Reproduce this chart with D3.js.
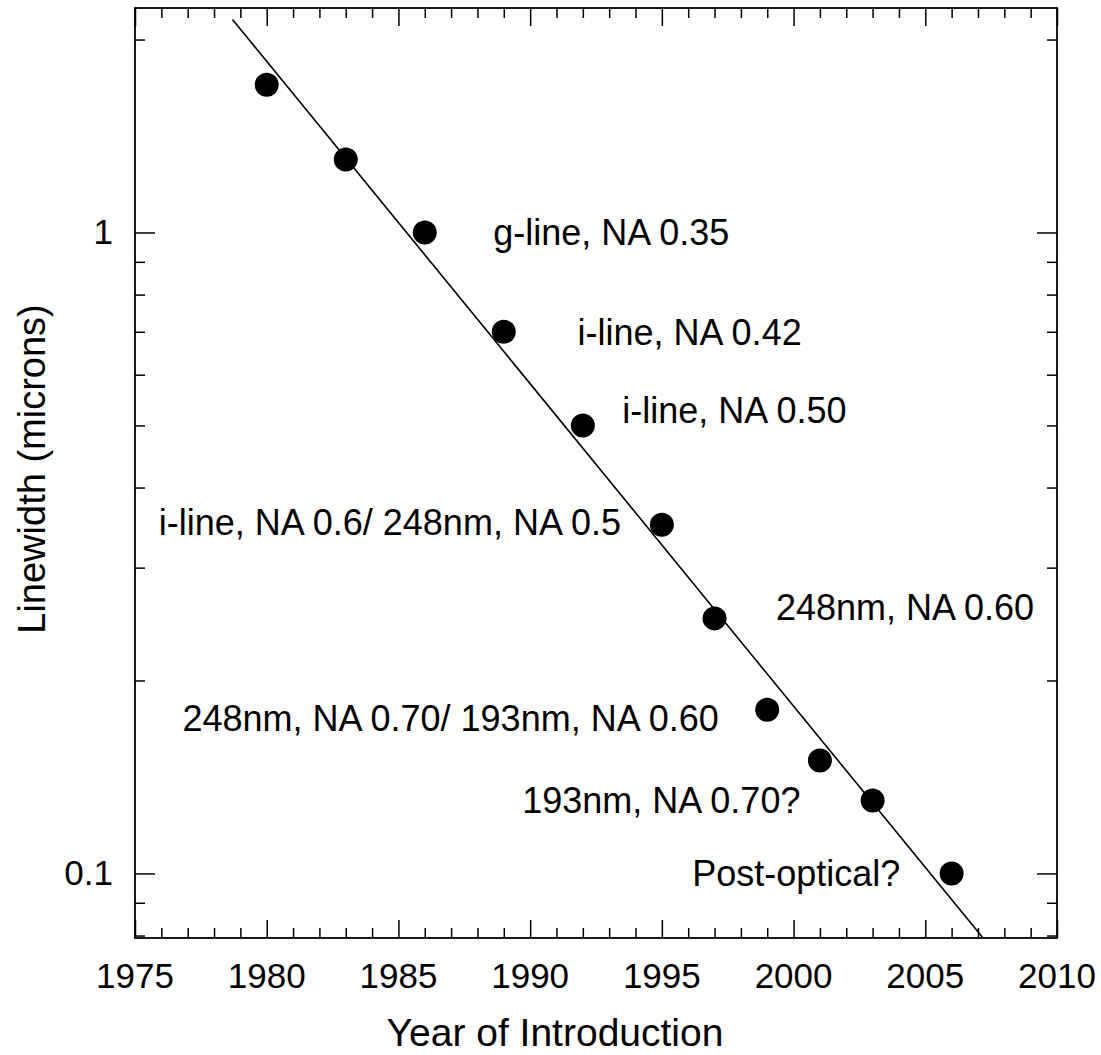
<!DOCTYPE html>
<html>
<head>
<meta charset="utf-8"/>
<title>Linewidth vs year</title>
<script src="https://cdn.jsdelivr.net/npm/d3@7"></script>
<style>
  body { margin: 0; background: #fff; }
  text { font-family: "Liberation Sans", Arial, Helvetica, sans-serif; fill: #000; }
</style>
</head>
<body>
<div id="chart"></div>
<script>
// data
var years  = [1980, 1983, 1986, 1989, 1992, 1995, 1997, 1999, 2001, 2003, 2006];
var widths = [1.7, 1.3, 1.0, 0.7, 0.5, 0.35, 0.25, 0.18, 0.15, 0.13, 0.10];

// trend line end points (year, microns)
var fitYears  = [1978.7, 2007.17];
var fitWidths = [2.15, 0.0795];

var labelText = ["g-line, NA 0.35", "i-line, NA 0.42", "i-line, NA 0.50",
                 "i-line, NA 0.6/ 248nm, NA 0.5", "248nm, NA 0.60",
                 "248nm, NA 0.70/ 193nm, NA 0.60", "193nm, NA 0.70?", "Post-optical?"];
var labelYear  = [1988.6, 1991.8, 1993.5, 1975.9, 1999.33, 1976.8, 1989.7, 1996.15];
var labelWidth = [1.0, 0.7, 0.528, 0.353, 0.26, 0.175, 0.13, 0.1];

var xTicks = [1975, 1980, 1985, 1990, 1995, 2000, 2005, 2010];
var yTicks = [0.1, 1];

var W = 1101, H = 1055;
var m = {left: 135, top: 8, right: 44, bottom: 117};
var pw = W - m.left - m.right, ph = H - m.top - m.bottom;

var svg = d3.select("#chart").append("svg")
    .attr("width", W)
    .attr("height", H);

var g = svg.append("g").attr("transform", "translate(" + m.left + "," + m.top + ")");

var x = d3.scaleLinear().domain([1975, 2010]).range([0, pw]);
var y = d3.scaleLog().domain([0.0793, 2.24]).range([ph, 0]);

var minorX = d3.range(1975, 2011).filter(function(d) { return d % 5 != 0; });
var minorY = [0.08, 0.09, 0.2, 0.3, 0.4, 0.5, 0.6, 0.7, 0.8, 0.9, 2];

function noLab() { return ""; }

// bottom + top ticks (inward)
g.append("g").attr("transform", "translate(0," + ph + ")")
    .call(d3.axisTop(x).tickValues(xTicks).tickSize(18).tickFormat(noLab));
g.append("g").attr("transform", "translate(0," + ph + ")")
    .call(d3.axisTop(x).tickValues(minorX).tickSize(10).tickFormat(noLab));
g.append("g")
    .call(d3.axisBottom(x).tickValues(xTicks).tickSize(18).tickFormat(noLab));
g.append("g")
    .call(d3.axisBottom(x).tickValues(minorX).tickSize(10).tickFormat(noLab));
// left + right
g.append("g")
    .call(d3.axisRight(y).tickValues(yTicks).tickSize(20).tickFormat(noLab));
g.append("g")
    .call(d3.axisRight(y).tickValues(minorY).tickSize(10).tickFormat(noLab));
g.append("g").attr("transform", "translate(" + pw + ",0)")
    .call(d3.axisLeft(y).tickValues(yTicks).tickSize(20).tickFormat(noLab));
g.append("g").attr("transform", "translate(" + pw + ",0)")
    .call(d3.axisLeft(y).tickValues(minorY).tickSize(10).tickFormat(noLab));

g.selectAll(".domain").remove();
g.selectAll(".tick line").attr("stroke", "#000").attr("stroke-width", 1.5);

// frame
g.append("rect").attr("width", pw).attr("height", ph)
    .attr("fill", "none").attr("stroke", "#000").attr("stroke-width", 1.8);

// tick labels
g.selectAll(".xl").data(xTicks).enter().append("text")
    .attr("x", function(d) { return x(d); })
    .attr("y", ph + 50)
    .attr("text-anchor", "middle")
    .style("font-size", "35px")
    .text(function(d) { return d; });

g.selectAll(".yl").data(yTicks).enter().append("text")
    .attr("x", -22)
    .attr("y", function(d) { return y(d) + 12; })
    .attr("text-anchor", "end")
    .style("font-size", "35px")
    .text(function(d) { return d; });

// axis titles
svg.append("text")
    .attr("x", 555).attr("y", 1046)
    .attr("text-anchor", "middle")
    .style("font-size", "39px")
    .text("Year of Introduction");

svg.append("text")
    .attr("transform", "translate(45,469) rotate(-90)")
    .attr("text-anchor", "middle")
    .style("font-size", "38px")
    .text("Linewidth (microns)");

// trend line
var line = d3.line()
    .x(function(d) { return x(d[0]); })
    .y(function(d) { return y(d[1]); });
g.append("path")
    .datum(d3.zip(fitYears, fitWidths))
    .attr("d", line)
    .attr("fill", "none")
    .attr("stroke", "#000")
    .attr("stroke-width", 1.6);

// points
g.selectAll(".pt").data(d3.zip(years, widths)).enter().append("circle")
    .attr("cx", function(d) { return x(d[0]); })
    .attr("cy", function(d) { return y(d[1]); })
    .attr("r", 12)
    .attr("fill", "#000");

// annotations
g.selectAll(".ann").data(d3.range(labelText.length)).enter().append("text")
    .attr("x", function(i) { return x(labelYear[i]); })
    .attr("y", function(i) { return y(labelWidth[i]) + 13; })
    .style("font-size", "36px")
    .text(function(i) { return labelText[i]; });
</script>
</body>
</html>
